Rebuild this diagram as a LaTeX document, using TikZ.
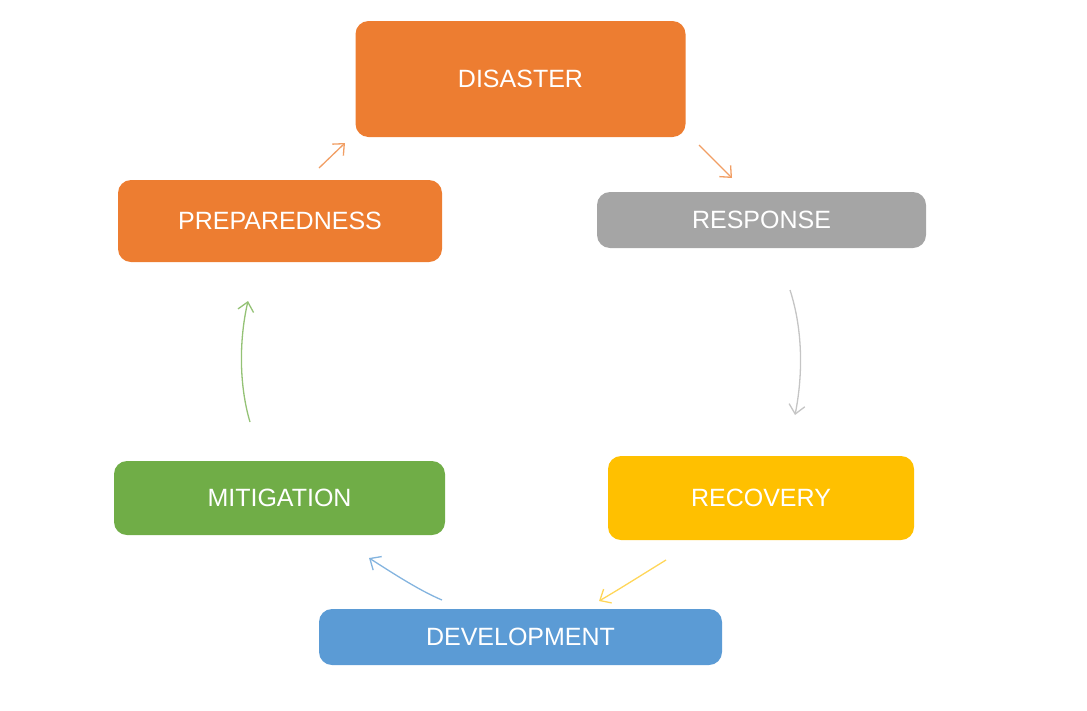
\documentclass[tikz,border=0pt]{standalone}
\usepackage{fontspec}
\setmainfont{Liberation Sans}
\usetikzlibrary{arrows.meta}
\definecolor{cOrange}{HTML}{ED7D31}
\definecolor{cGray}{HTML}{A5A5A5}
\definecolor{cYellow}{HTML}{FFC000}
\definecolor{cGreen}{HTML}{70AD47}
\definecolor{cBlue}{HTML}{5B9BD5}
\tikzset{
  stagebox/.style = {rectangle, rounded corners=13pt, inner sep=0pt,
    text=white, font=\fontsize{25}{30}\selectfont},
  cyclearrow/.style = {line width=1.3pt, -{Straight Barb[length=9pt,width=16pt]}},
}
\begin{document}
\begin{tikzpicture}[x=1pt, y=-1pt]
    \useasboundingbox (0,0) rectangle (1087,710);
    % stages of the cycle
    \node[stagebox, fill=cOrange, minimum width=330, minimum height=116] (disaster)     at (520.5,79)  {DISASTER};
    \node[stagebox, fill=cGray,   minimum width=329, minimum height=56]  (response)     at (761.5,220) {RESPONSE};
    \node[stagebox, fill=cYellow, minimum width=306, minimum height=84]  (recovery)     at (761,498)   {RECOVERY};
    \node[stagebox, fill=cBlue,   minimum width=403, minimum height=56]  (development)  at (520.5,637) {DEVELOPMENT};
    \node[stagebox, fill=cGreen,  minimum width=331, minimum height=74]  (mitigation)   at (279.5,498) {MITIGATION};
    \node[stagebox, fill=cOrange, minimum width=324, minimum height=82]  (preparedness) at (280,221)   {PREPAREDNESS};
    % arrow ends
    \coordinate (prepOut) at (319,168);  \coordinate (disIn)  at (345,143);
    \coordinate (disOut)  at (699,145);  \coordinate (respIn) at (732,178);
    \coordinate (respOut) at (790,290);  \coordinate (recIn)  at (795,415);
    \coordinate (recOut)  at (666,560);  \coordinate (devIn)  at (599,601);
    \coordinate (devOut)  at (442,600);  \coordinate (mitIn)  at (369,558);
    \coordinate (mitOut)  at (250,422);  \coordinate (prepIn) at (248,301);
    % arrows
    \draw[cyclearrow, cOrange!75] (prepOut) -- (disIn);
    \draw[cyclearrow, cOrange!75] (disOut) -- (respIn);
    \draw[cyclearrow, cGray!65] (respOut) .. controls (803,330) and (803,375) .. (recIn);
    \draw[cyclearrow, cYellow!65] (recOut) .. controls (640,576) and (618,590) .. (devIn);
    \draw[cyclearrow, cBlue!75] (devOut) .. controls (418,590) and (388,570) .. (mitIn);
    \draw[cyclearrow, cGreen!75] (mitOut) .. controls (239,385) and (239,340) .. (prepIn);
  \end{tikzpicture}
\end{document}
